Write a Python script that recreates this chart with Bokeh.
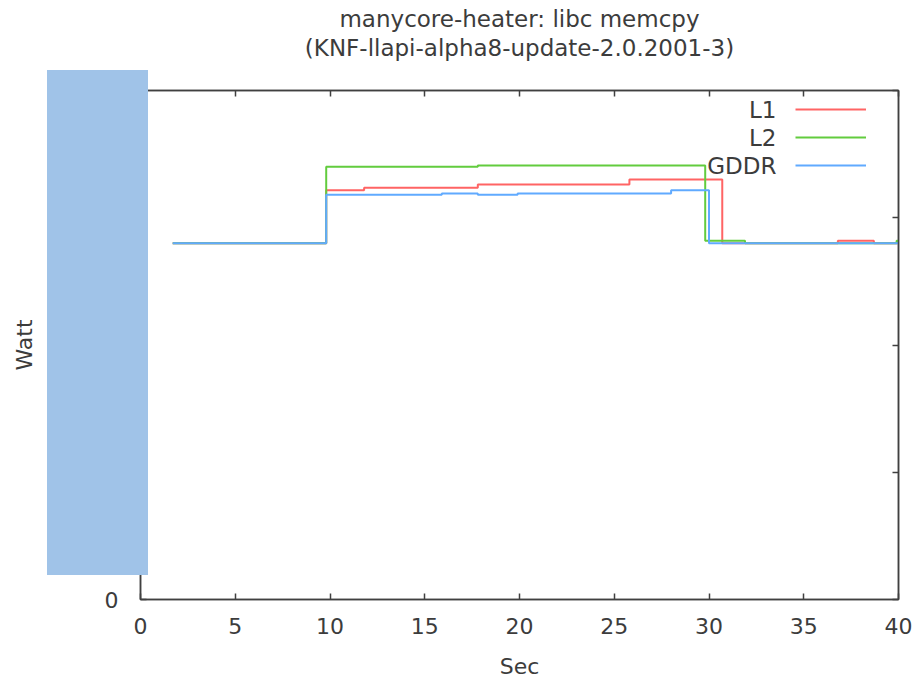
from bokeh.plotting import figure
from bokeh.models import (Range1d, LinearAxis, Title, Legend, LegendItem, Label,
                          FixedTicker, CustomJSTickFormatter, InlineStyleSheet)
from bokeh.embed import file_html
from bokeh.resources import INLINE

title_line1 = "manycore-heater: libc memcpy"
title_line2 = "(KNF-llapi-alpha8-update-2.0.2001-3)"

x_ticks = [0, 5, 10, 15, 20, 25, 30, 35, 40]
y_ticks = [0, 50, 100, 150, 200]

# L1 series (step, value held until next time)
l1_t = [1.7, 9.8, 11.8, 17.8, 25.8, 30.7, 36.8, 38.7, 40.0]
l1_w = [140.0, 160.8, 161.8, 163.1, 165.0, 140.0, 141.0, 140.0, 140.0]
# L2 series
l2_t = [1.7, 9.8, 17.8, 29.8, 31.9, 39.9, 40.0]
l2_w = [140.0, 170.0, 170.5, 141.0, 140.0, 141.0, 141.0]
# GDDR series
gddr_t = [1.7, 9.8, 15.9, 17.8, 19.9, 28.0, 30.0, 40.0]
gddr_w = [140.0, 159.0, 159.5, 159.0, 159.5, 160.8, 140.0, 140.0]

series_names = ["L1", "L2", "GDDR"]
series_colors = ["#ff6464", "#62cc3e", "#60aaff"]

FONT = "DejaVu Sans"
TXT = "#3c3c3c"
FS = "22px"
FS_TITLE = "23px"

# redaction box that hides the y tick labels in the original image
redact_css = InlineStyleSheet(css="""
:host { position: relative; }
:host::after {
  content: "";
  position: absolute;
  left: 47px; top: 70px; width: 101px; height: 505px;
  background-color: #a0c3e8;
  z-index: 100;
  pointer-events: none;
}
""")

p = figure(width=914, height=681, x_range=Range1d(0, 40), y_range=Range1d(0, 200),
           output_backend="svg", toolbar_location=None,
           min_border_left=140, min_border_right=16, min_border_top=90,
           min_border_bottom=81, x_axis_label="Sec", y_axis_label="Watt")
p.stylesheets = [redact_css]
p.grid.visible = False
p.outline_line_color = "#404040"
p.outline_line_width = 1.5
p.background_fill_color = "white"
p.border_fill_color = "white"

bottom_ax = p.below[0]
left_ax = p.left[0]
bottom_ax.ticker = FixedTicker(ticks=x_ticks)
left_ax.ticker = FixedTicker(ticks=y_ticks)

blank = CustomJSTickFormatter(code="return ''")
top_ax = LinearAxis(ticker=FixedTicker(ticks=x_ticks), formatter=blank,
                    axis_label=title_line2)
right_ax = LinearAxis(ticker=FixedTicker(ticks=y_ticks), formatter=blank)
p.add_layout(top_ax, "above")
p.add_layout(right_ax, "right")

for ax in [bottom_ax, left_ax, top_ax, right_ax]:
    ax.major_tick_in = 6
    ax.major_tick_out = 0
    ax.minor_tick_in = 0
    ax.minor_tick_out = 0
    ax.axis_line_color = "#404040"
    ax.axis_line_width = 1.5
    ax.major_tick_line_color = "#404040"
    ax.major_tick_line_width = 1.5
    ax.major_label_text_font = FONT
    ax.major_label_text_font_size = FS
    ax.major_label_text_color = TXT
    ax.axis_label_text_font = FONT
    ax.axis_label_text_font_size = FS
    ax.axis_label_text_color = TXT
    ax.axis_label_text_font_style = "normal"

top_ax.axis_label_text_font_size = FS_TITLE
bottom_ax.major_label_standoff = 18
bottom_ax.axis_label_standoff = 17
left_ax.major_label_standoff = 22
left_ax.axis_label_standoff = 37
top_ax.axis_label_standoff = 30

p.add_layout(Title(text=title_line1, align="center", text_font=FONT,
                   text_font_size=FS_TITLE, text_color=TXT,
                   text_font_style="normal", standoff=0), "above")

renderers = []
for t, w, c in zip([l1_t, l2_t, gddr_t], [l1_w, l2_w, gddr_w], series_colors):
    r = p.step(t, w, mode="after", line_color=c, line_width=2)
    renderers.append(r)

legend = Legend(items=[LegendItem(label=" ", renderers=[r]) for r in renderers],
                location=(655, 420), glyph_width=71, glyph_height=28, label_height=28,
                label_width=1, spacing=0, padding=0, margin=0, label_standoff=0,
                border_line_color=None, background_fill_alpha=0,
                label_text_font_size="8px")
p.add_layout(legend)

for i, name in enumerate(series_names):
    p.add_layout(Label(x=636, y=490 - 28 * i, x_units="screen", y_units="screen",
                       text=name, text_align="right", text_baseline="middle",
                       text_font=FONT, text_font_size="23px", text_color=TXT))

open("out.html", "w").write(file_html(p, INLINE))
